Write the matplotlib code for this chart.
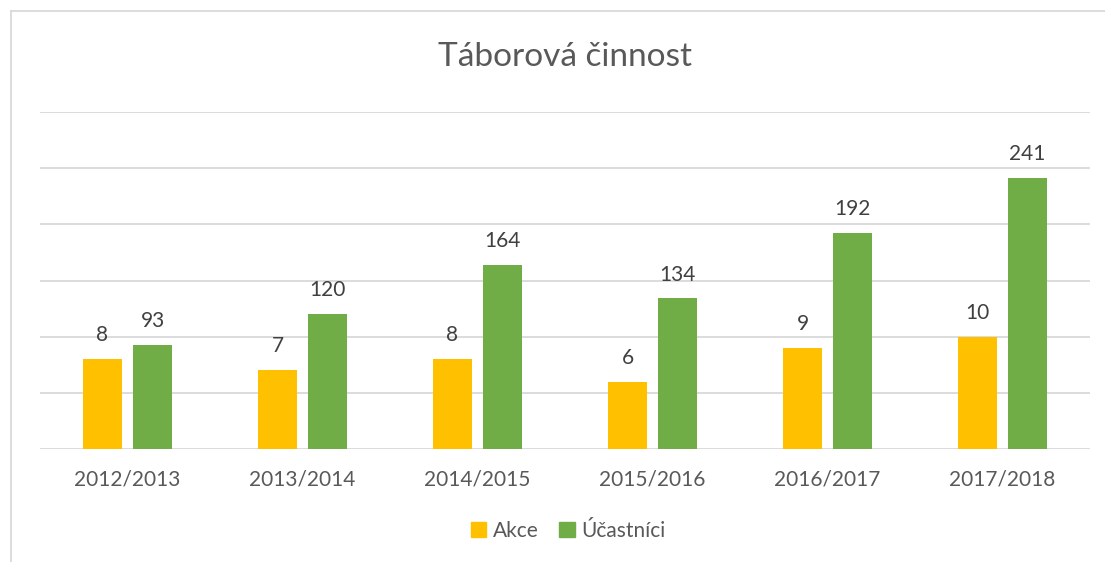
import matplotlib
matplotlib.use("Agg")
import matplotlib.pyplot as plt
import numpy as np
from matplotlib.lines import Line2D
from matplotlib.patches import Patch

categories = ["2012/2013", "2013/2014", "2014/2015", "2015/2016", "2016/2017", "2017/2018"]
akce = [8, 7, 8, 6, 9, 10]
ucastnici = [93, 120, 164, 134, 192, 241]

YELLOW = "#FFC000"
GREEN = "#70AD47"
plt.rcParams['font.family'] = ['Lato', 'DejaVu Sans']

W, H = 1105, 562
fig = plt.figure(figsize=(W/100, H/100), dpi=100)
ax = fig.add_axes([40/W, (H-449)/H, 1050/W, 337/H])
ax2 = ax.twinx()

x = np.arange(len(categories))
bw = 0.223
off = 0.143

b2 = ax.bar(x + off, ucastnici, bw, color=GREEN, zorder=3)
b1 = ax2.bar(x - off, akce, bw, color=YELLOW, zorder=3)

ax.set_ylim(0, 300)
ax2.set_ylim(0, 30)
ax.set_xlim(-0.5, len(categories) - 0.5)
ax.set_yticks(np.arange(0, 301, 50))
ax.yaxis.grid(True, color="#D9D9D9", linewidth=1.3, zorder=0)
ax.set_axisbelow(True)
for a in (ax, ax2):
    for s in a.spines.values():
        s.set_visible(False)
    a.tick_params(axis='y', length=0, labelleft=False, labelright=False)
ax.tick_params(axis='x', length=0, pad=15, labelsize=15, labelcolor="#595959")
ax.set_xticks(x)
ax.set_xticklabels(categories)

for rect, v in zip(b2, ucastnici):
    ax.annotate(str(v), (rect.get_x() + rect.get_width()/2, rect.get_height()),
                xytext=(0, 10), textcoords="offset points", ha="center", va="bottom",
                fontsize=15, color="#404040")
for rect, v in zip(b1, akce):
    ax2.annotate(str(v), (rect.get_x() + rect.get_width()/2, rect.get_height()),
                 xytext=(0, 10), textcoords="offset points", ha="center", va="bottom",
                 fontsize=15, color="#404040")

fig.text(565/W, 1 - 57/H, "Táborová činnost", ha="center", va="center",
         fontsize=24, color="#595959")

handles = [Patch(color=YELLOW, label="Akce"), Patch(color=GREEN, label="Účastníci")]
fig.legend(handles=handles, loc="center", bbox_to_anchor=(568/W, 1 - 531/H), ncol=2,
           frameon=False, fontsize=15, handlelength=0.75, handleheight=0.75,
           handletextpad=0.3, columnspacing=1.0, labelcolor="#595959")

fig.add_artist(Line2D([10.5/W, 10.5/W], [0, 1 - 11/H], transform=fig.transFigure,
                      color="#D9D9D9", linewidth=1.3))
fig.add_artist(Line2D([10.5/W, 1], [1 - 11/H, 1 - 11/H], transform=fig.transFigure,
                      color="#D9D9D9", linewidth=1.3))

fig.savefig("out.png", dpi=100)
